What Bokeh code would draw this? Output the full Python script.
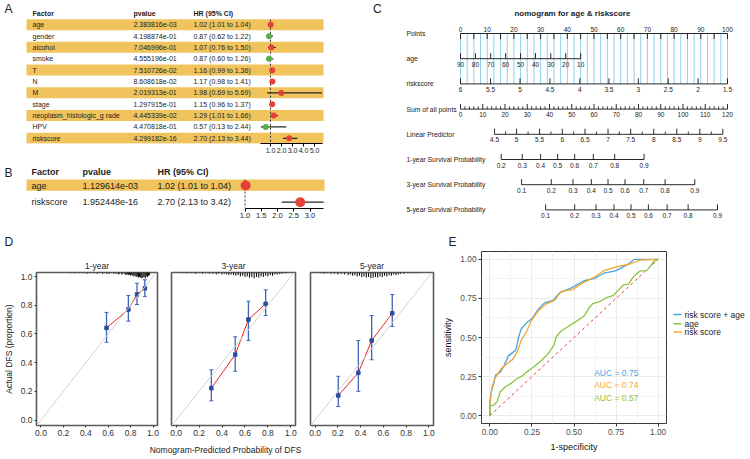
from bokeh.plotting import figure
from bokeh.layouts import row, column
from bokeh.models import (Range1d, LinearAxis, FixedTicker, NumeralTickFormatter,
                          Whisker, TeeHead, ColumnDataSource, Slope)
from bokeh.core.properties import value
from bokeh.embed import file_html
from bokeh.resources import INLINE

FONT = "Liberation Sans"
GOLD = "#F0C35C"
RED = "#E5403A"
GREEN = "#55AE47"
INK = "#222222"

# ---------------- Panel A data ----------------
a_factors = ["age", "gender", "alcohol", "smoke", "T", "N", "M", "stage",
             "neoplasm_histologic_g rade", "HPV", "riskscore"]
a_pvalues = ["2.383816e-03", "4.198874e-01", "7.046996e-01", "4.555196e-01", "7.510726e-02",
             "8.608618e-02", "2.019313e-01", "1.297915e-01", "4.445339e-02", "4.470818e-01",
             "4.299182e-16"]
a_hr = [1.02, 0.87, 1.07, 0.87, 1.16, 1.17, 1.98, 1.15, 1.29, 0.57, 2.70]
a_lo = [1.01, 0.62, 0.76, 0.60, 0.99, 0.98, 0.69, 0.96, 1.01, 0.13, 2.13]
a_hi = [1.04, 1.22, 1.50, 1.26, 1.36, 1.41, 5.69, 1.37, 1.66, 2.44, 3.44]
a_ticks = [1.0, 2.0, 3.0, 4.0, 5.0]

# ---------------- Panel B data ----------------
b_factors = ["age", "riskscore"]
b_pvalues = ["1.129614e-03", "1.952448e-16"]
b_hr = [1.02, 2.70]
b_lo = [1.01, 2.13]
b_hi = [1.04, 3.42]
b_ticks = [1.0, 1.5, 2.0, 2.5, 3.0]

# ---------------- Panel C data (nomogram) ----------------
points_labels = [0, 10, 20, 30, 40, 50, 60, 70, 80, 90, 100]
age_labels = [90, 80, 70, 60, 50, 40, 30, 20, 10]
age_points = [0, 5.6, 11.3, 16.9, 22.5, 28.1, 33.8, 39.4, 45.0]
risk_labels = [6, 5.5, 5, 4.5, 4, 3.5, 3, 2.5, 2, 1.5]
risk_points = [0, 11.25, 22.3, 33.5, 44.7, 55.6, 66.6, 77.8, 89.0, 100.0]
sum_labels = [0, 10, 20, 30, 40, 50, 60, 70, 80, 90, 100, 110, 120]
lp_labels = [4.5, 5, 5.5, 6, 6.5, 7, 7.5, 8, 8.5, 9, 9.5]
lp_total = [15.3, 25.2, 35.55, 45.75, 55.95, 66.3, 76.5, 86.85, 97.2, 107.55, 117.9]
s1_labels = [0.2, 0.3, 0.4, 0.5, 0.6, 0.7, 0.8, 0.9]
s1_total = [18.3, 27.75, 36.0, 43.65, 51.3, 59.7, 69.3, 82.5]
s3_labels = [0.1, 0.2, 0.3, 0.4, 0.5, 0.6, 0.7, 0.8, 0.9]
s3_total = [27.45, 40.8, 50.55, 58.8, 66.3, 73.95, 82.35, 91.95, 105.3]
s5_labels = [0.1, 0.2, 0.3, 0.4, 0.5, 0.6, 0.7, 0.8, 0.9]
s5_total = [38.25, 51.3, 60.9, 69.0, 76.65, 84.45, 92.85, 102.3, 115.5]

# ---------------- Panel D data (calibration) ----------------
cal_titles = ["1-year", "3-year", "5-year"]
cal1_x = [0.585, 0.78, 0.857, 0.927]
cal1_y = [0.642, 0.77, 0.875, 0.918]
cal1_lo = [0.542, 0.689, 0.805, 0.86]
cal1_hi = [0.75, 0.868, 0.953, 0.977]
cal2_x = [0.307, 0.515, 0.63, 0.78]
cal2_y = [0.222, 0.456, 0.70, 0.81]
cal2_lo = [0.134, 0.34, 0.555, 0.728]
cal2_hi = [0.35, 0.58, 0.828, 0.907]
cal3_x = [0.204, 0.38, 0.497, 0.678]
cal3_y = [0.171, 0.329, 0.554, 0.744]
cal3_lo = [0.094, 0.20, 0.42, 0.652]
cal3_hi = [0.305, 0.554, 0.728, 0.875]
rug1_x = [0.26, 0.30, 0.34, 0.38, 0.41, 0.44, 0.47, 0.50, 0.52, 0.55, 0.57, 0.59, 0.61, 0.63,
          0.65, 0.67, 0.69, 0.70, 0.72, 0.73, 0.75, 0.76, 0.77, 0.78, 0.79, 0.80, 0.81, 0.82,
          0.83, 0.84, 0.85, 0.86, 0.87, 0.88, 0.89, 0.90, 0.91, 0.92, 0.93, 0.94, 0.95, 0.96, 0.97]
rug1_n = [1, 1, 1, 1, 2, 1, 1, 2, 1, 2, 1, 2, 2, 1, 2, 2, 3, 2, 3, 2, 3, 4, 3, 4, 3, 5, 4, 5,
          6, 5, 7, 6, 8, 7, 8, 9, 8, 7, 9, 6, 7, 5, 4]
rug2_x = [0.05, 0.09, 0.13, 0.17, 0.20, 0.23, 0.26, 0.29, 0.32, 0.35, 0.37, 0.40, 0.42, 0.44,
          0.46, 0.48, 0.50, 0.52, 0.54, 0.56, 0.58, 0.60, 0.62, 0.64, 0.66, 0.68, 0.70, 0.72,
          0.74, 0.76, 0.78, 0.80, 0.82, 0.84, 0.86, 0.88, 0.90, 0.92, 0.94, 0.96]
rug2_n = [1, 1, 1, 2, 1, 2, 1, 2, 2, 3, 2, 3, 2, 3, 4, 3, 4, 5, 4, 6, 5, 7, 6, 8, 7, 9, 7, 8,
          6, 7, 5, 6, 4, 5, 3, 3, 2, 2, 1, 1]
rug3_x = [0.02, 0.05, 0.08, 0.11, 0.14, 0.17, 0.20, 0.23, 0.26, 0.29, 0.31, 0.33, 0.35, 0.37,
          0.39, 0.41, 0.43, 0.45, 0.47, 0.49, 0.51, 0.53, 0.55, 0.57, 0.59, 0.61, 0.63, 0.65,
          0.67, 0.69, 0.71, 0.73, 0.75, 0.78, 0.81, 0.84, 0.87, 0.90]
rug3_n = [1, 1, 2, 1, 2, 2, 3, 2, 3, 4, 3, 5, 4, 6, 5, 7, 6, 8, 7, 9, 8, 7, 8, 6, 7, 5, 6, 4,
          5, 3, 4, 3, 2, 2, 1, 1, 1, 1]
cal_ticks = [0.0, 0.2, 0.4, 0.6, 0.8, 1.0]

# ---------------- Panel E data (ROC) ----------------
roc_names = ["risk score + age", "age", "risk score"]
roc_colors = ["#4AA3DD", "#8DC43F", "#F6A631"]
roc_both_x = [0, 0, 0.01, 0.023, 0.033, 0.062, 0.082, 0.111, 0.15, 0.156, 0.17, 0.185, 0.219,
              0.252, 0.287, 0.326, 0.375, 0.414, 0.482, 0.56, 0.619, 0.678, 0.746, 0.815,
              0.86, 0.98, 1.0]
roc_both_y = [0, 0.089, 0.163, 0.209, 0.258, 0.278, 0.315, 0.384, 0.416, 0.426, 0.5, 0.553,
              0.595, 0.623, 0.68, 0.722, 0.737, 0.785, 0.816, 0.863, 0.876, 0.911, 0.926,
              0.964, 1.0, 1.0, 1.0]
roc_risk_x = [0, 0, 0.014, 0.033, 0.064, 0.097, 0.136, 0.166, 0.185, 0.219, 0.248, 0.287,
              0.336, 0.385, 0.424, 0.492, 0.55, 0.619, 0.678, 0.756, 0.834, 0.893, 0.99, 1.0]
roc_risk_y = [0, 0.08, 0.19, 0.245, 0.297, 0.329, 0.36, 0.416, 0.479, 0.542, 0.61, 0.668,
              0.715, 0.737, 0.795, 0.806, 0.848, 0.884, 0.928, 0.953, 0.97, 0.995, 1.0, 1.0]
roc_age_x = [0, 0, 0.023, 0.043, 0.062, 0.092, 0.131, 0.16, 0.19, 0.219, 0.258, 0.306, 0.345,
             0.38, 0.394, 0.424, 0.502, 0.56, 0.59, 0.61, 0.658, 0.697, 0.736, 0.756, 0.795,
             0.824, 0.854, 0.893, 0.932, 0.961, 0.971, 1.0]
roc_age_y = [0, 0.063, 0.067, 0.09, 0.153, 0.185, 0.21, 0.237, 0.252, 0.28, 0.31, 0.353, 0.395,
             0.448, 0.505, 0.542, 0.595, 0.637, 0.69, 0.715, 0.732, 0.757, 0.77, 0.795, 0.837,
             0.842, 0.89, 0.926, 0.928, 0.964, 0.985, 1.0]
auc_values = [0.75, 0.74, 0.57]
auc_colors = ["#4AA3DD", "#F6A631", "#8DC43F"]
chance = [0.0, 1.0]
roc_ticks = [0.0, 0.25, 0.5, 0.75, 1.0]
roc_minor = [0.125, 0.375, 0.625, 0.875]


# ---------------- helpers ----------------
def base(w, h, xr, yr, left=0, right=0, top=0, bottom=0):
    p = figure(width=w, height=h, x_range=xr, y_range=yr, output_backend="svg",
               toolbar_location=None, x_axis_type=None, y_axis_type=None,
               min_border_left=left, min_border_right=right, min_border_top=top,
               min_border_bottom=bottom)
    p.outline_line_color = None
    return p


def txt(p, xs, ys, texts, size, align="left", baseline="middle", bold=False, color=INK, angle=0.0):
    p.text(x=list(xs), y=list(ys), text=list(texts), text_font=value(FONT),
           text_font_size=value(size), text_align=align, text_baseline=baseline,
           text_color=color, text_font_style="bold" if bold else "normal", angle=angle)


def style_axis(ax, size, color=INK):
    ax.major_label_text_font = FONT
    ax.major_label_text_font_size = size
    ax.major_label_text_color = color
    ax.minor_tick_in = 0
    ax.minor_tick_out = 0
    ax.major_tick_in = 0


# ---------------- Panel A (page pixels: x 0..370, y 0..165) ----------------
A_ROW0, A_PITCH = 24.3, 11.35
a_rows = list(range(len(a_factors)))
a_top = -A_ROW0 / A_PITCH
a_bot = (143 - A_ROW0) / A_PITCH
pA = base(370, 165, Range1d(0, 370), Range1d(a_bot, a_top), bottom=22)
pA.extra_x_ranges = {"hr": Range1d(1 - 270 / 11.0, 1 + (370 - 270) / 11.0)}
band_rows = a_rows[::2]
pA.quad(left=26, right=323, top=[r - 0.5 for r in band_rows], bottom=[r + 0.47 for r in band_rows],
        fill_color=GOLD, line_color=None)
txt(pA, [4], [(8.5 - A_ROW0) / A_PITCH], ["A"], "12px")
txt(pA, [32, 133, 193], [-1, -1, -1], ["Factor", "pvalue", "HR (95% CI)"], "7px", bold=True)
txt(pA, [32] * len(a_rows), a_rows, a_factors, "7px")
txt(pA, [133] * len(a_rows), a_rows, a_pvalues, "7px")
txt(pA, [193] * len(a_rows), a_rows,
    [f"{h:.2f} ({l:.2f} to {u:.2f})" for h, l, u in zip(a_hr, a_lo, a_hi)], "7px")
pA.segment(x0=[1], x1=[1], y0=[-0.45], y1=[a_bot], x_range_name="hr",
           line_color="#333333", line_dash="2 2", line_width=1)
pA.segment(x0=a_lo, x1=a_hi, y0=a_rows, y1=a_rows, x_range_name="hr",
           line_color="#262626", line_width=1.2)
pA.scatter(x=a_hr, y=a_rows, size=6, x_range_name="hr", line_color=None,
           fill_color=[RED if h > 1 else GREEN for h in a_hr])
axA = LinearAxis(x_range_name="hr", ticker=FixedTicker(ticks=a_ticks),
                 formatter=NumeralTickFormatter(format="0.0"), bounds=(min(a_lo), max(a_hi)))
style_axis(axA, "7px")
axA.major_tick_out = 3
axA.major_label_standoff = 1
pA.add_layout(axA, "below")

# ---------------- Panel B (x 0..370, y 165..222) ----------------
B_ROW0, B_PITCH = 185.0, 16.7
b_rows = list(range(len(b_factors)))
b_top = -(B_ROW0 - 165) / B_PITCH
b_bot = (208 - B_ROW0) / B_PITCH
pB = base(370, 57, Range1d(0, 370), Range1d(b_bot, b_top), bottom=14)
pB.extra_x_ranges = {"hr": Range1d(1 - 244.5 / 32.5, 1 + (370 - 244.5) / 32.5)}
pB.quad(left=26, right=324, top=[r - 0.36 for r in b_rows[::2]], bottom=[r + 0.32 for r in b_rows[::2]],
        fill_color=GOLD, line_color=None)
txt(pB, [4], [-0.75], ["B"], "12px")
txt(pB, [31, 82, 157], [-0.78] * 3, ["Factor", "pvalue", "HR (95% CI)"], "9px", bold=True)
txt(pB, [31] * len(b_rows), b_rows, b_factors, "9px")
txt(pB, [82] * len(b_rows), b_rows, b_pvalues, "9px")
txt(pB, [157] * len(b_rows), b_rows,
    [f"{h:.2f} ({l:.2f} to {u:.2f})" for h, l, u in zip(b_hr, b_lo, b_hi)], "9px")
pB.segment(x0=[1], x1=[1], y0=[-0.36], y1=[b_bot], x_range_name="hr",
           line_color="#333333", line_dash="2 2", line_width=1)
pB.segment(x0=b_lo, x1=b_hi, y0=b_rows, y1=b_rows, x_range_name="hr",
           line_color="#262626", line_width=1.2)
pB.scatter(x=b_hr, y=b_rows, size=10, x_range_name="hr", line_color=None,
           fill_color=[RED if h > 1 else GREEN for h in b_hr])
axB = LinearAxis(x_range_name="hr", ticker=FixedTicker(ticks=b_ticks),
                 formatter=NumeralTickFormatter(format="0.0"), bounds=(min(b_lo), max(b_hi)))
style_axis(axB, "7.5px")
axB.major_tick_out = 3
axB.major_label_standoff = 1
pB.add_layout(axB, "below")

# ---------------- Panel C (x 370..750, y 0..222) ----------------
C_X0, C_SCALE = 460.0, 267.0 / 120.0
C_ROW0, C_PITCH = 33.0, 25.2
pC = base(380, 222, Range1d((370 - C_X0) / C_SCALE, (750 - C_X0) / C_SCALE),
          Range1d((222 - C_ROW0) / C_PITCH, (0 - C_ROW0) / C_PITCH))
P2T = 120.0 / 100.0  # points scale -> total points scale (same span)
TL, TS = 0.22, 0.11
LBL, TICKF = "6.8px", "6.5px"
txt(pC, [(372.5 - C_X0) / C_SCALE], [(8.5 - C_ROW0) / C_PITCH], ["C"], "12px")
txt(pC, [50.3], [(13 - C_ROW0) / C_PITCH], ["nomogram for age & riskscore"], "8px",
    align="center", bold=True)
row_names = ["Points", "age", "riskscore", "Sum of all points", "Linear Predictor",
             "1-year Survival Probability", "3-year Survival Probability",
             "5-year Survival Probability"]
txt(pC, [-24.3] * len(row_names), list(range(len(row_names))), row_names, LBL)

# blue guide lines every 2.5 points
guide = [i * 2.5 * P2T for i in range(41)]
pC.segment(x0=guide, x1=guide, y0=[0] * len(guide), y1=[2] * len(guide),
           line_color="#8FD0EE", line_width=1)


def nomo_axis(r, xs, labels, minor=None, up=True, above=False, major_len=TL):
    pC.segment(x0=[min(xs)], x1=[max(xs)], y0=[r], y1=[r], line_color="#111111", line_width=0.9)
    d = -major_len if up else major_len
    pC.segment(x0=xs, x1=xs, y0=[r] * len(xs), y1=[r + d] * len(xs),
               line_color="#111111", line_width=0.9)
    if minor:
        dm = -TS if up else TS
        pC.segment(x0=minor, x1=minor, y0=[r] * len(minor), y1=[r + dm] * len(minor),
                   line_color="#111111", line_width=0.8)
    if above:
        txt(pC, xs, [r - 0.06] * len(xs), [f"{v:g}" for v in labels], TICKF,
            align="center", baseline="bottom")
    else:
        txt(pC, xs, [r + 0.12] * len(xs), [f"{v:g}" for v in labels], TICKF,
            align="center", baseline="top")


pts_minor = [(v + 5) * P2T for v in points_labels[:-1]]
nomo_axis(0, [v * P2T for v in points_labels], points_labels, up=False, above=True)
pC.segment(x0=pts_minor, x1=pts_minor, y0=[0] * len(pts_minor), y1=[TL] * len(pts_minor),
           line_color="#111111", line_width=0.9)
nomo_axis(1, [v * P2T for v in age_points], age_labels)
nomo_axis(2, [v * P2T for v in risk_points], risk_labels)
sum_minor = [s + k * 2 for s in sum_labels[:-1] for k in (1, 2, 3, 4)]
nomo_axis(3, sum_labels, sum_labels, minor=sum_minor, major_len=0.2)
lp_minor = [(a + b) / 2 for a, b in zip(lp_total[:-1], lp_total[1:])]
nomo_axis(4, lp_total, lp_labels, minor=lp_minor)
nomo_axis(5, s1_total, s1_labels)
nomo_axis(6, s3_total, s3_labels)
nomo_axis(7, s5_total, s5_labels)

# ---------------- strip with letters D / E (y 222..250) ----------------
pS = base(750, 28, Range1d(0, 750), Range1d(250, 222))
txt(pS, [4, 448], [241.5, 241.5], ["D", "E"], "12px")


# ---------------- Panel D (y 250..439) ----------------
def dpanel(w, left, right, title, cx, cy, clo, chi, rx, rn, show_y):
    p = figure(width=w, height=189, x_range=Range1d(-0.04, 1.04), y_range=Range1d(-0.038, 1.028),
               output_backend="svg", toolbar_location=None, title=title,
               y_axis_type="linear" if show_y else None,
               min_border_left=left, min_border_right=right, min_border_top=22, min_border_bottom=14)
    p.grid.visible = False
    p.outline_line_color = "#5A5A5A"
    p.outline_line_width = 1.6
    p.title.align = "center"
    p.title.text_font = FONT
    p.title.text_font_size = "8.5px"
    p.title.text_font_style = "normal"
    p.title.text_color = INK
    p.title.standoff = 4
    p.add_layout(Slope(gradient=1, y_intercept=0, line_color="#D3D3D3", line_width=1))
    top = p.y_range.end
    p.segment(x0=rx, x1=rx, y0=[top] * len(rx), y1=[top - n * 0.0045 for n in rn],
              line_color="#000000", line_width=1)
    p.line(cx, cy, line_color="#E8251E", line_width=1)
    src = ColumnDataSource(dict(x=cx, lo=clo, hi=chi))
    blue = "#3D64B8"
    p.add_layout(Whisker(base="x", lower="lo", upper="hi", source=src, line_color=blue,
                         line_width=1.3,
                         upper_head=TeeHead(size=4, line_color=blue, line_width=1),
                         lower_head=TeeHead(size=4, line_color=blue, line_width=1)))
    p.scatter(cx, cy, marker="square", size=3.5, color="#2B4DA0")
    for ax in p.axis:
        ax.ticker = FixedTicker(ticks=cal_ticks)
        ax.formatter = NumeralTickFormatter(format="0.0")
        style_axis(ax, "8.5px", "#333333")
        ax.major_tick_out = 2
        ax.major_label_standoff = 2
        ax.axis_line_color = None
        ax.major_tick_line_color = "#333333"
    if show_y:
        p.yaxis.axis_label = "Actual DFS (proportion)"
        p.yaxis.axis_label_text_font = FONT
        p.yaxis.axis_label_text_font_size = "8.5px"
        p.yaxis.axis_label_text_font_style = "normal"
        p.yaxis.axis_label_text_color = INK
        p.yaxis.axis_label_standoff = 4
    return p


pD1 = dpanel(164, 34, 7, cal_titles[0], cal1_x, cal1_y, cal1_lo, cal1_hi, rug1_x, rug1_n, True)
pD2 = dpanel(138, 7, 7, cal_titles[1], cal2_x, cal2_y, cal2_lo, cal2_hi, rug2_x, rug2_n, False)
pD3 = dpanel(138, 8, 7, cal_titles[2], cal3_x, cal3_y, cal3_lo, cal3_hi, rug3_x, rug3_n, False)
pDl = base(440, 20, Range1d(0, 440), Range1d(459, 439))
txt(pDl, [225], [449], ["Nomogram-Predicted Probability of DFS"], "8.5px", align="center")

# ---------------- Panel E (x 440..667, y 250..459) ----------------
pE = figure(width=227, height=209, x_range=Range1d(-0.05, 1.05), y_range=Range1d(-0.05, 1.05),
            output_backend="svg", toolbar_location=None,
            min_border_left=39, min_border_right=1, min_border_top=1, min_border_bottom=36)
pE.outline_line_color = "#3A3A3A"
pE.outline_line_width = 1
for ax in (pE.xaxis[0], pE.yaxis[0]):
    ax.ticker = FixedTicker(ticks=roc_ticks, minor_ticks=roc_minor)
    ax.formatter = NumeralTickFormatter(format="0.00")
    style_axis(ax, "8.3px", "#4D4D4D")
    ax.major_tick_out = 3
    ax.major_label_standoff = 2
    ax.axis_line_color = None
    ax.major_tick_line_color = "#333333"
    ax.axis_label_text_font = FONT
    ax.axis_label_text_font_size = "9px"
    ax.axis_label_text_font_style = "normal"
    ax.axis_label_text_color = "#111111"
    ax.axis_label_standoff = 4
pE.xaxis.axis_label = "1-specificity"
pE.yaxis.axis_label = "sensitivity"
pE.grid.grid_line_color = "#EBEBEB"
pE.grid.minor_grid_line_color = "#F3F3F3"
pE.line(chance, chance, line_color="#E8413C", line_dash="3 3", line_width=1)
pE.line(roc_both_x, roc_both_y, line_color=roc_colors[0], line_width=1.3)
pE.line(roc_risk_x, roc_risk_y, line_color=roc_colors[2], line_width=1.3)
pE.line(roc_age_x, roc_age_y, line_color=roc_colors[1], line_width=1.3)
txt(pE, [0.62] * 3, [0.275, 0.194, 0.116], [f"AUC =  {a:.2f}" for a in auc_values], "8.5px",
    color=auc_colors)

# legend panel for E (keys + labels), x 667..750
pL = base(83, 209, Range1d(667, 750), Range1d(459, 250))
leg_y = [326.7, 337.7, 347.7]
pL.segment(x0=[673] * 3, x1=[681] * 3, y0=leg_y, y1=leg_y, line_color=roc_colors, line_width=1.5)
txt(pL, [684] * 3, leg_y, roc_names, "8.5px")

# ---------------- layout ----------------
top_row = row(column(pA, pB), pC)
bottom_row = row(column(row(pD1, pD2, pD3), pDl), pE, pL)
layout = column(top_row, pS, bottom_row)

open("out.html", "w").write(file_html(layout, INLINE, title="figure"))
